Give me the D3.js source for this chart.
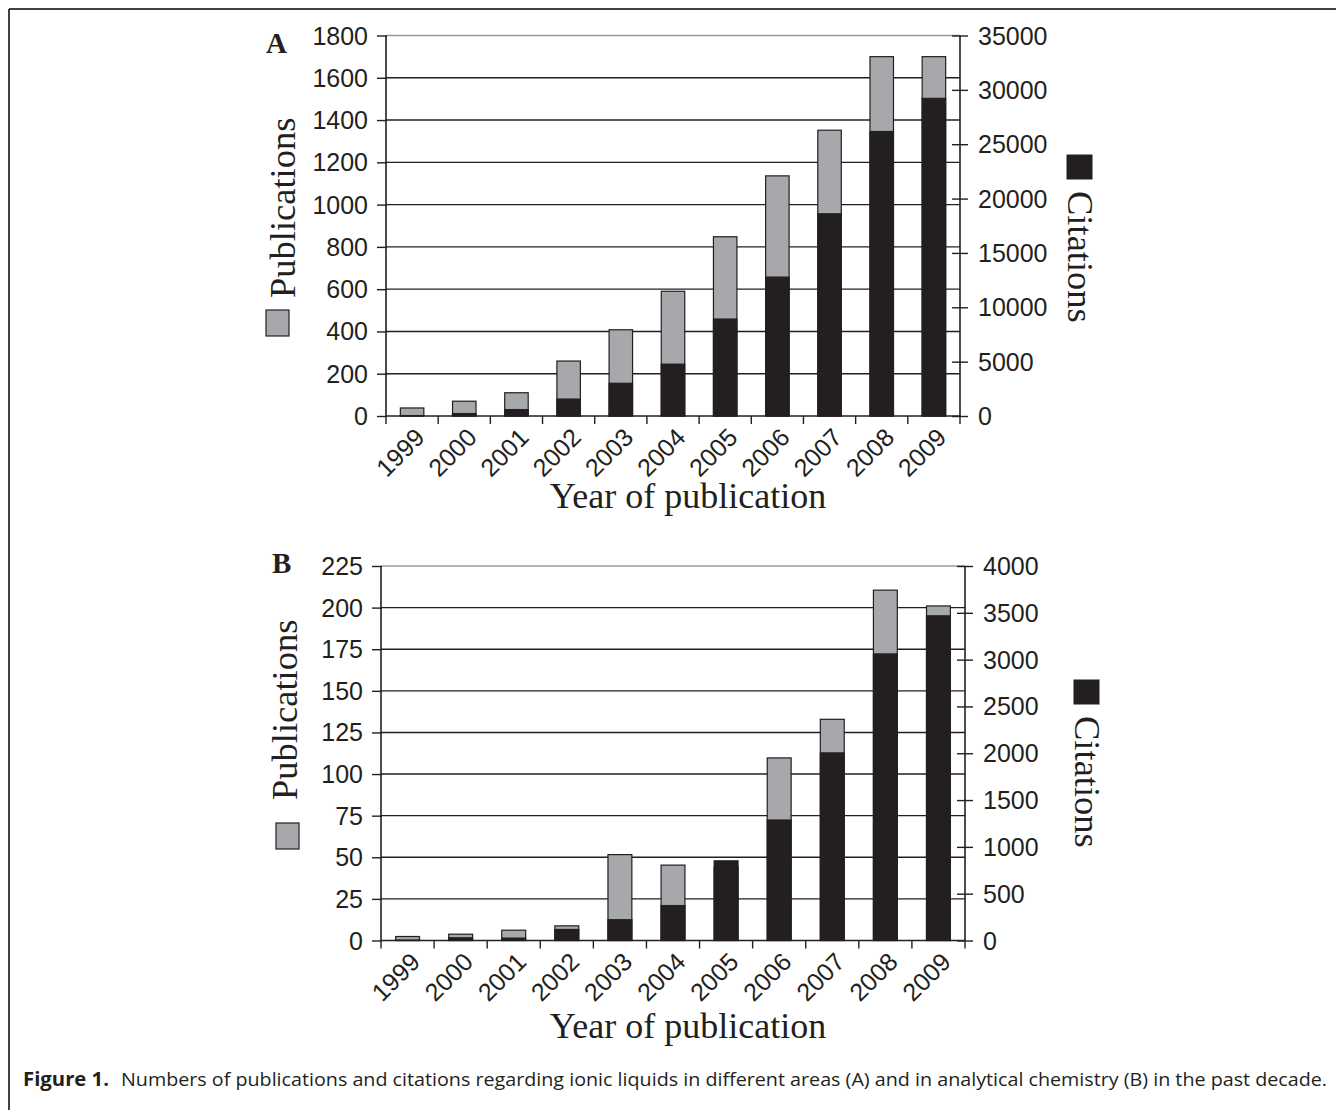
<!DOCTYPE html>
<html>
<head>
<meta charset="utf-8">
<script src="https://cdn.jsdelivr.net/npm/d3@7"></script>
<style>
  html, body { margin: 0; padding: 0; background: #fff; }
  svg { display: block; }
</style>
</head>
<body>
<svg id="chart" width="1336" height="1110"></svg>
<script>
// ---------- data ----------
const years = ["1999","2000","2001","2002","2003","2004","2005","2006","2007","2008","2009"];

// Panel A: ionic liquids in different areas
const pubsA  = [38, 70, 110, 260, 408, 590, 848, 1136, 1352, 1700, 1700];
const citesA = [40, 225, 590, 1560, 3010, 4770, 8920, 12780, 18600, 26170, 29220];
const leftTicksA  = [0, 200, 400, 600, 800, 1000, 1200, 1400, 1600, 1800];
const rightTicksA = [0, 5000, 10000, 15000, 20000, 25000, 30000, 35000];

// Panel B: ionic liquids in analytical chemistry
const pubsB  = [2.4, 3.8, 6.2, 8.8, 51.6, 45.3, 44, 109.7, 132.9, 210.5, 201];
const citesB = [4, 29, 26, 118, 222, 373, 851, 1287, 2004, 3061, 3468];
const leftTicksB  = [0, 25, 50, 75, 100, 125, 150, 175, 200, 225];
const rightTicksB = [0, 500, 1000, 1500, 2000, 2500, 3000, 3500, 4000];

const caption = "Numbers of publications and citations regarding ionic liquids in different areas (A) and in analytical chemistry (B) in the past decade.";

// ---------- style ----------
const GRAY = "#a6a8ab";
const BLACK = "#231f20";
const SANS = "'Liberation Sans', Arial, sans-serif";
const SERIF = "'Liberation Serif', 'Times New Roman', serif";

const svg = d3.select("#chart");

// frame
svg.append("line").attr("x1", 9).attr("y1", 9).attr("x2", 1336).attr("y2", 9)
  .attr("stroke", "#000").attr("stroke-width", 1.5);
svg.append("line").attr("x1", 9).attr("y1", 9).attr("x2", 9).attr("y2", 1110)
  .attr("stroke", "#000").attr("stroke-width", 1.5);

function panel(cfg) {
  const g = svg.append("g");
  const x = d3.scaleBand().domain(years).range([cfg.x0, cfg.x1]).paddingInner(0.55).paddingOuter(0.275);
  const yL = d3.scaleLinear().domain([0, cfg.leftMax]).range([cfg.yBot, cfg.yTop]);
  const yR = d3.scaleLinear().domain([0, cfg.rightMax]).range([cfg.yBot, cfg.yTop]);

  // gridlines
  g.selectAll(".grid").data(cfg.leftTicks.filter(d => d > 0)).join("line")
    .attr("x1", cfg.x0).attr("x2", cfg.x1)
    .attr("y1", d => yL(d)).attr("y2", d => yL(d))
    .attr("stroke", d => d === cfg.leftMax ? "#9a9a9a" : BLACK)
    .attr("stroke-width", 1.4);

  // bars: publications (gray) behind, citations (black) in front
  const bw = x.bandwidth();
  g.selectAll(".pub").data(cfg.pubs).join("rect")
    .attr("x", (d, i) => x(years[i])).attr("width", bw)
    .attr("y", d => yL(d)).attr("height", d => cfg.yBot - yL(d))
    .attr("fill", GRAY).attr("stroke", BLACK).attr("stroke-width", 1.2);
  g.selectAll(".cit").data(cfg.cites).join("rect")
    .attr("x", (d, i) => x(years[i])).attr("width", bw)
    .attr("y", d => yR(d)).attr("height", d => cfg.yBot - yR(d))
    .attr("fill", BLACK).attr("stroke", BLACK).attr("stroke-width", 1.2);

  // left axis
  const axL = g.append("g").attr("transform", `translate(${cfg.x0},0)`)
    .call(d3.axisLeft(yL).tickValues(cfg.leftTicks).tickSize(9).tickPadding(9).tickFormat(d3.format("d")));
  axL.select(".domain").attr("stroke", BLACK).attr("stroke-width", 1.6).attr("d", `M0,${cfg.yTop}V${cfg.yBot}`);
  axL.selectAll(".tick line").attr("stroke", BLACK).attr("stroke-width", 1.4).attr("x2", -9).attr("x1", 1);
  axL.selectAll("text").attr("font-family", SANS).attr("font-size", 25).attr("fill", BLACK).attr("dy", "0.34em");

  // right axis
  const axR = g.append("g").attr("transform", `translate(${cfg.x1},0)`)
    .call(d3.axisRight(yR).tickValues(cfg.rightTicks).tickSize(8).tickPadding(10).tickFormat(d3.format("d")));
  axR.select(".domain").attr("stroke", BLACK).attr("stroke-width", 1.6).attr("d", `M0,${cfg.yTop}V${cfg.yBot}`);
  axR.selectAll(".tick line").attr("stroke", BLACK).attr("stroke-width", 1.4).attr("x1", -8).attr("x2", 8);
  axR.selectAll("text").attr("font-family", SANS).attr("font-size", 25).attr("fill", BLACK).attr("dy", "0.34em");

  // bottom axis
  const xTickScale = d3.scaleLinear().domain([0, years.length]).range([cfg.x0, cfg.x1]);
  g.selectAll(".xtick").data(d3.range(years.length + 1)).join("line")
    .attr("x1", d => xTickScale(d)).attr("x2", d => xTickScale(d))
    .attr("y1", cfg.yBot).attr("y2", cfg.yBot + 8)
    .attr("stroke", BLACK).attr("stroke-width", 1.4);
  g.append("line").attr("x1", cfg.x0).attr("x2", cfg.x1).attr("y1", cfg.yBot).attr("y2", cfg.yBot)
    .attr("stroke", BLACK).attr("stroke-width", 1.6);
  g.selectAll(".xlab").data(years).join("text")
    .attr("transform", d => `translate(${x(d) + bw / 2 + 14},${cfg.yBot + 23}) rotate(-45)`)
    .attr("text-anchor", "end")
    .attr("font-family", SANS).attr("font-size", 25).attr("fill", BLACK)
    .text(d => d);

  // x title
  g.append("text").attr("x", 688).attr("y", cfg.yBot + cfg.titleDy)
    .attr("text-anchor", "middle").attr("font-family", SERIF).attr("font-size", 36).attr("fill", BLACK)
    .text("Year of publication");

  // panel letter
  g.append("text").attr("x", cfg.letterX).attr("y", cfg.letterY)
    .attr("font-family", SERIF).attr("font-weight", "bold").attr("font-size", 29).attr("fill", BLACK)
    .text(cfg.letter);

  // left legend label: Publications + gray square
  g.append("text").attr("transform", `translate(${cfg.pubX},${cfg.pubY}) rotate(-90)`)
    .attr("font-family", SERIF).attr("font-size", 36.5).attr("fill", BLACK)
    .text("Publications");
  g.append("rect").attr("x", cfg.pubSqX).attr("y", cfg.pubSqY).attr("width", 23).attr("height", 26)
    .attr("fill", GRAY).attr("stroke", BLACK).attr("stroke-width", 1.2);

  // right legend label: black square + Citations
  g.append("rect").attr("x", cfg.citSqX).attr("y", cfg.citSqY).attr("width", 25).attr("height", 24)
    .attr("fill", BLACK).attr("stroke", BLACK).attr("stroke-width", 1);
  g.append("text").attr("transform", `translate(${cfg.citX},${cfg.citY}) rotate(90)`)
    .attr("font-family", SERIF).attr("font-size", 36.5).attr("fill", BLACK)
    .text("Citations");
}

panel({
  x0: 386, x1: 960, yTop: 35.5, yBot: 416,
  leftMax: 1800, rightMax: 35000,
  leftTicks: leftTicksA, rightTicks: rightTicksA,
  pubs: pubsA, cites: citesA, titleDy: 92,
  letter: "A", letterX: 266, letterY: 53,
  pubX: 295, pubY: 298, pubSqX: 266, pubSqY: 310,
  citSqX: 1067, citSqY: 155, citX: 1068, citY: 191
});

panel({
  x0: 381, x1: 965, yTop: 566, yBot: 940.5,
  leftMax: 225, rightMax: 4000,
  leftTicks: leftTicksB, rightTicks: rightTicksB,
  pubs: pubsB, cites: citesB, titleDy: 97,
  letter: "B", letterX: 272, letterY: 573,
  pubX: 297, pubY: 800, pubSqX: 276, pubSqY: 823,
  citSqX: 1074, citSqY: 680, citX: 1075, citY: 716
});

// caption
const cap = svg.append("g");
cap.append("text").attr("x", 23).attr("y", 1086)
  .attr("font-family", "'Open Sans', sans-serif").attr("font-weight", "bold").attr("font-size", 19)
  .attr("fill", BLACK).attr("textLength", 86).attr("lengthAdjust", "spacingAndGlyphs")
  .text("Figure 1.");
cap.append("text").attr("x", 121).attr("y", 1086)
  .attr("font-family", "'Open Sans', sans-serif").attr("font-size", 19)
  .attr("fill", BLACK).attr("textLength", 1206).attr("lengthAdjust", "spacingAndGlyphs")
  .text(caption);
</script>
</body>
</html>
